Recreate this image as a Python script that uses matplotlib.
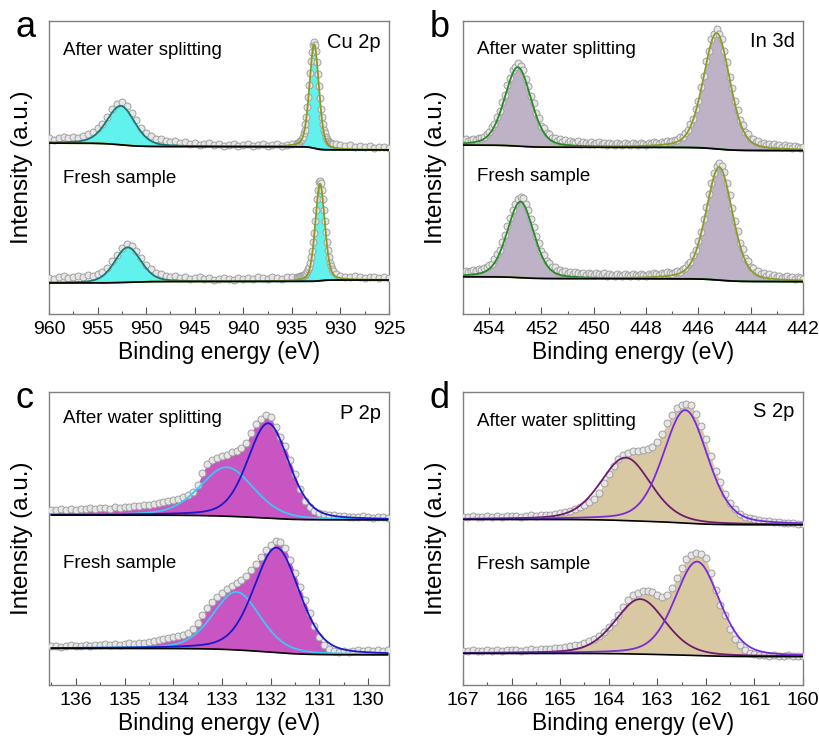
import numpy as np
import matplotlib.pyplot as plt
from matplotlib.ticker import MultipleLocator
from math import erf

plt.rcParams['font.family'] = ['Liberation Sans', 'DejaVu Sans']

# ---- binding energy grids (eV) ----
be_cu = np.concatenate([np.arange(960, 934.6, -0.5),
                        np.arange(934.5, 930.75, -0.1),
                        np.arange(930.5, 924.9, -0.5)])
be_in = np.arange(455.0, 441.95, -0.1)
be_p = np.arange(136.5, 129.55, -0.1)
be_s = np.arange(167.0, 159.95, -0.1)

# ---- measured intensities (a.u.), after-reaction spectra stacked on top ----
cu_after = [176, 174, 176, 177, 176, 177, 176, 178, 180, 182, 186, 190, 197, 205, 210, 212, 208,
            201, 194, 186, 181, 178, 175, 175, 173, 172, 173, 171, 172, 170, 171, 169, 170, 171,
            169, 170, 168, 169, 170, 168, 169, 170, 168, 169, 170, 168, 169, 170, 168, 169, 170,
            171, 171, 171, 173, 174, 175, 177, 181, 184, 190, 197, 207, 217, 229, 241, 253, 262,
            269, 272, 269, 263, 252, 240, 228, 216, 205, 197, 190, 184, 181, 177, 175, 173, 172,
            171, 171, 170, 170,
            170, 169, 168, 169, 167, 168, 167, 168, 166, 167, 167, 166]
cu_fresh = [36, 35, 37, 38, 36, 37, 38, 37, 39, 38, 40, 42, 46, 53, 59, 66, 70, 68, 63, 56, 49,
            45, 41, 40, 38, 37, 38, 36, 37, 35, 36, 37, 35, 36, 34, 35, 36, 35, 34, 36, 35, 36,
            35, 37, 36, 35, 37, 36, 35, 37, 37,
            37, 37, 37, 38, 38, 38, 38, 39, 39, 40, 41, 43, 45, 47, 51, 57, 63, 72, 81, 93, 104,
            115, 124, 132, 133, 131, 124, 115, 104, 93, 82, 72, 64, 57, 51, 48, 45, 43,
            40, 38, 37, 37, 38, 37, 36, 37, 37, 36, 37, 36]

in_after = [173, 175, 173, 174, 175, 174, 176, 176, 177, 180,
            182, 187, 190, 197, 203, 212, 219, 229, 236, 244,
            247, 251, 248, 244, 235, 228, 218, 211, 201, 196,
            188, 186, 181, 180, 176, 176, 173, 175, 172, 174,
            171, 173, 172, 171, 173, 170, 172, 171, 170, 172,
            170, 171, 172, 170, 171, 169, 171, 170, 169, 171,
            170, 169, 171, 170, 169, 171, 170, 169, 171, 170,
            169, 171, 170, 172, 171, 170, 172, 171, 173, 172,
            173, 174, 174, 177, 177, 181, 184, 190, 195, 205,
            213, 227, 238, 253, 263, 275, 280, 285, 280, 275,
            263, 252, 237, 226, 213, 204, 194, 189, 182, 180,
            175, 175, 172, 173, 170, 171, 169, 170, 168, 170,
            168, 169, 167, 169, 167, 168, 166, 168, 167, 166, 167]
in_fresh = [41, 43, 42, 43, 44, 43, 45, 44, 46, 47,
            49, 50, 55, 60, 64, 72, 79, 88, 96, 104,
            110, 115, 117, 116, 110, 104, 95, 87, 78, 71,
            63, 59, 53, 51, 47, 47, 43, 44, 42, 43,
            41, 42, 40, 42, 41, 40, 41, 39, 41, 40,
            39, 41, 40, 39, 41, 38, 40, 39, 38, 40,
            39, 38, 40, 39, 38, 40, 39, 38, 40, 39,
            38, 40, 39, 41, 40, 39, 41, 40, 42, 41,
            40, 42, 43, 42, 45, 46, 50, 52, 59, 64,
            73, 82, 95, 107, 120, 131, 141, 148, 151, 148,
            142, 131, 119, 106, 93, 83, 71, 65, 56, 53,
            47, 46, 42, 43, 40, 41, 38, 40, 37, 39,
            37, 38, 36, 37, 38, 36, 37, 35, 37, 36, 35]

p_after = [175, 175, 176, 175, 176, 175, 176, 176, 177, 176,
           177, 177, 176, 178, 177, 178, 178, 179, 179, 180,
           180, 181, 182, 183, 184, 185, 186, 188, 190, 193,
           200, 212, 221, 225, 227, 229, 230, 233, 234, 237,
           242, 252, 261, 266, 270, 268, 258, 248, 239, 225,
           211, 196, 184, 178, 174, 172, 171, 170, 170, 169,
           169, 168, 168, 168, 169, 168, 167, 168, 168, 167]
p_fresh = [39, 39, 38, 39, 40, 39, 39, 40, 39, 40,
           40, 41, 40, 41, 40, 41, 42, 41, 42, 42,
           43, 44, 45, 46, 47, 48, 49, 50, 52, 56,
           62, 70, 77, 83, 88, 92, 96, 99, 102, 105,
           109, 115, 121, 128, 135, 140, 144, 143, 137, 125,
           112, 98, 85, 72, 59, 48, 40, 36, 34, 33,
           34, 33, 34, 35, 34, 35, 34, 35, 34, 35]

s_after = [168, 168, 169, 168, 168, 169, 168, 169, 168, 169,
           169, 169, 168, 169, 170, 169, 170, 170, 170, 171,
           172, 173, 174, 176, 178, 180, 183, 186, 192, 202,
           211, 219, 226, 230, 232, 234, 234, 235, 236, 238,
           243, 251, 262, 270, 277, 280, 281, 280, 271, 259,
           246, 229, 214, 203, 191, 182, 176, 171, 168, 167,
           166, 165, 164, 164, 163, 163, 162, 162, 162, 161, 161]
s_fresh = [34, 34, 35, 34, 34, 35, 34, 35, 34, 35,
           35, 35, 34, 35, 36, 35, 36, 36, 36, 37,
           37, 38, 39, 40, 40, 42, 44, 46, 49, 53,
           58, 63, 70, 78, 85, 90, 92, 94, 94, 93,
           90, 88, 90, 97, 107, 117, 126, 130, 132, 131,
           127, 112, 95, 80, 70, 56, 46, 40, 35, 32,
           31, 30, 30, 29, 30, 29, 29, 30, 29, 29, 29]

# ---- fitted components: (centre eV, height, FWHM eV) ----
cu_after_peaks = [(952.6, 39, 3.4), (932.7, 104, 1.15)]
cu_fresh_peaks = [(951.9, 35, 3.2), (932.1, 97, 1.15)]
in_after_peaks = [(452.9, 79, 1.2), (445.3, 116, 1.2)]
in_fresh_peaks = [(452.8, 76, 1.2), (445.2, 113, 1.2)]
p_after_peaks = [(132.9, 49, 1.3), (132.05, 95, 1.0)]
p_fresh_peaks = [(132.7, 58, 1.15), (131.88, 105, 1.1)]
s_after_peaks = [(163.65, 63, 1.22), (162.42, 113, 1.08)]
s_fresh_peaks = [(163.35, 55, 1.22), (162.18, 94, 1.08)]

# Shirley background level at the high-BE and low-BE ends
cu_after_bg = (171, 164)
cu_fresh_bg = (31, 34)
in_after_bg = (169, 163.3)
in_fresh_bg = (37.3, 32.3)
p_after_bg = (170, 165)
p_fresh_bg = (36.7, 30)
s_after_bg = (165.7, 160)
s_fresh_bg = (31.7, 28.3)

MIX = 0.3  # Lorentzian fraction of the GL line shape
erf_v = np.vectorize(erf)


def gl_peak(e, centre, height, fwhm):
    """Gaussian-Lorentzian (pseudo-Voigt) line shape."""
    x = (e - centre) / fwhm
    return height * ((1 - MIX) * np.exp(-4 * np.log(2) * x ** 2) + MIX / (1 + 4 * x ** 2))


def gl_area_below(e, centre, height, fwhm):
    """Integral of gl_peak from the low binding energy side up to e."""
    x = (e - centre) / fwhm
    g = 0.5 * (1 + erf_v(2 * np.sqrt(np.log(2)) * x)) * fwhm * np.sqrt(np.pi / (4 * np.log(2)))
    l = (0.5 + np.arctan(2 * x) / np.pi) * np.pi * fwhm / 2
    return height * ((1 - MIX) * g + MIX * l)


def shirley(e, peaks, bg):
    """Shirley-type step background built from the fitted components."""
    hi, lo = bg
    below = sum(gl_area_below(e, *p) for p in peaks)
    total = sum(p[1] * p[2] * ((1 - MIX) * np.sqrt(np.pi / (4 * np.log(2))) + MIX * np.pi / 2)
                for p in peaks)
    return lo + (hi - lo) * below / total


def draw_spectrum(ax, be, counts, peaks, bg, line_colors, fill_color, fill_components):
    counts = np.asarray(counts, dtype=float)
    fine = np.linspace(be.max(), be.min(), 900)
    base = shirley(fine, peaks, bg)

    if fill_components:
        for p in peaks:
            ax.fill_between(fine, base, base + gl_peak(fine, *p), color=fill_color, lw=0, zorder=1)
    else:
        ax.fill_between(be, shirley(be, peaks, bg), counts, color=fill_color, lw=0, zorder=1)

    ax.plot(be, counts, 'o', ms=5, mfc='#e6e6e6', mec='#a0a0a0', mew=0.7, zorder=3)
    for p, col in zip(peaks, line_colors):
        ax.plot(fine, base + gl_peak(fine, *p), color=col, lw=1.3, zorder=4)
    ax.plot(fine, base, color='black', lw=1.2, zorder=5)


fig = plt.figure(figsize=(8.2, 7.42), dpi=100)

panels = [
    dict(rect=[0.0598, 0.5768, 0.4146, 0.3949], be=be_cu, xlim=(960, 925), major=5, minor=2.5,
         spectra=[(cu_after, cu_after_peaks, cu_after_bg), (cu_fresh, cu_fresh_peaks, cu_fresh_bg)],
         lines=['#167a78', '#8f9a20'], fill='#62f2ee', per_peak=True, name='Cu 2p', letter='a',
         fresh_y=0.464, after_y=0.900, name_y=0.928),
    dict(rect=[0.5646, 0.5768, 0.4146, 0.3949], be=be_in, xlim=(455, 442), major=2, minor=1,
         spectra=[(in_after, in_after_peaks, in_after_bg), (in_fresh, in_fresh_peaks, in_fresh_bg)],
         lines=['#2a8a2a', '#8f9a28'], fill='#bdb2c6', per_peak=True, name='In 3d', letter='b',
         fresh_y=0.468, after_y=0.904, name_y=0.930),
    dict(rect=[0.0598, 0.0768, 0.4146, 0.3949], be=be_p, xlim=(136.55, 129.57), major=1, minor=0.5,
         spectra=[(p_after, p_after_peaks, p_after_bg), (p_fresh, p_fresh_peaks, p_fresh_bg)],
         lines=['#3cc8f5', '#1a1ac8'], fill='#c955c2', per_peak=False, name='P 2p', letter='c',
         fresh_y=0.416, after_y=0.908, name_y=0.928),
    dict(rect=[0.5646, 0.0768, 0.4146, 0.3949], be=be_s, xlim=(167, 160), major=1, minor=0.5,
         spectra=[(s_after, s_after_peaks, s_after_bg), (s_fresh, s_fresh_peaks, s_fresh_bg)],
         lines=['#6e1b6e', '#7a2bd8'], fill='#d9c9a3', per_peak=False, name='S 2p', letter='d',
         fresh_y=0.410, after_y=0.898, name_y=0.932),
]

for pnl in panels:
    ax = fig.add_axes(pnl['rect'])
    for counts, peaks, bg in pnl['spectra']:
        draw_spectrum(ax, pnl['be'], counts, peaks, bg, pnl['lines'], pnl['fill'], pnl['per_peak'])

    ax.set_xlim(*pnl['xlim'])
    ax.set_ylim(0, 293)
    ax.set_yticks([])
    ax.xaxis.set_major_locator(MultipleLocator(pnl['major']))
    ax.xaxis.set_minor_locator(MultipleLocator(pnl['minor']))
    ax.tick_params(axis='x', which='major', direction='in', length=5, width=0.8,
                   color='#555555', labelsize=14, pad=5)
    ax.tick_params(axis='x', which='minor', direction='in', length=2.5, width=0.8, color='#555555')
    for sp in ax.spines.values():
        sp.set_color('#808080')
        sp.set_linewidth(1.0)

    ax.set_xlabel('Binding energy (eV)', fontsize=16.5, labelpad=2)
    ax.set_ylabel('Intensity (a.u.)', fontsize=17.5)
    ax.yaxis.set_label_coords(-0.046, 0.5)

    ax.text(0.04, pnl['after_y'], 'After water splitting', transform=ax.transAxes,
            fontsize=13.5, va='center', ha='left')
    ax.text(0.04, pnl['fresh_y'], 'Fresh sample', transform=ax.transAxes,
            fontsize=13.5, va='center', ha='left')
    ax.text(0.975, pnl['name_y'], pnl['name'], transform=ax.transAxes,
            fontsize=14.5, va='center', ha='right')

    x0, y0 = pnl['rect'][0], pnl['rect'][1] + pnl['rect'][3]
    fig.text(x0 - 0.041, y0 - 0.0215, pnl['letter'], fontsize=26, ha='left', va='baseline')

fig.savefig('out.png', dpi=100)
